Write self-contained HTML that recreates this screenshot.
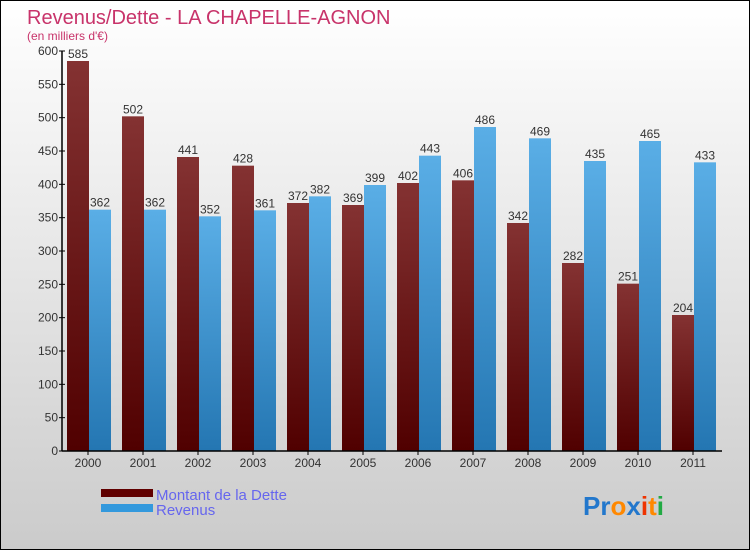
<!DOCTYPE html>
<html><head><meta charset="utf-8"><style>
body{margin:0}
#wrap{width:748px;height:548px;border:1px solid #000;background:linear-gradient(#fff,#cbcbcb);position:relative;font-family:"Liberation Sans",sans-serif}
</style></head><body>
<div id="wrap">
<svg id="svg" width="748" height="548" style="position:absolute;left:0;top:0">
<defs>
<linearGradient id="gr" x1="0" y1="0" x2="0" y2="1"><stop offset="0" stop-color="#843232"/><stop offset="1" stop-color="#500000"/></linearGradient>
<linearGradient id="gb" x1="0" y1="0" x2="0" y2="1"><stop offset="0" stop-color="#5aaee6"/><stop offset="1" stop-color="#2476b2"/></linearGradient>
</defs>
<text x="26" y="23" font-size="20" fill="#c8336a">Revenus/Dette - LA CHAPELLE-AGNON</text>
<text x="26" y="39" font-size="12" fill="#c8336a">(en milliers d'€)</text>
<g id="g"></g>
<rect x="100" y="488" width="52" height="8" fill="#600000"/>
<rect x="100" y="503" width="52" height="8" fill="#3399dd"/>
<text x="155" y="499" font-size="15" fill="#6666ee">Montant de la Dette</text>
<text x="155" y="514" font-size="15" fill="#6666ee">Revenus</text>
<text x="582" y="514" font-size="26" font-weight="bold"><tspan fill="#2277cc">Pr</tspan><tspan fill="#ff8800">o</tspan><tspan fill="#2277cc">x</tspan><tspan fill="#ee3300">i</tspan><tspan fill="#ff8800">t</tspan><tspan fill="#22aa44">i</tspan></text>
</svg>
</div>
<script>
const years=["2000","2001","2002","2003","2004","2005","2006","2007","2008","2009","2010","2011"];
const dette=[585,502,441,428,372,369,402,406,342,282,251,204];
const revenus=[362,362,352,361,382,399,443,486,469,435,465,433];
const ticks=[0,50,100,150,200,250,300,350,400,450,500,550,600];
const NS="http://www.w3.org/2000/svg",g=document.getElementById('g');
const x0=61,band=55,yB=450,yT=50,vmax=600;
const y=v=>yB-(v/vmax)*(yB-yT);
function mk(t,a,txt){const e=document.createElementNS(NS,t);for(const k in a)e.setAttribute(k,a[k]);if(txt!=null)e.textContent=txt;g.appendChild(e);return e;}
years.forEach((yr,i)=>{
 const bx=x0+i*band+5;
 let r=mk('rect',{x:bx,y:y(dette[i]),width:22,height:yB-y(dette[i]),fill:'url(#gr)'});
 
 
 let b=mk('rect',{x:bx+22,y:y(revenus[i]),width:22,height:yB-y(revenus[i]),fill:'url(#gb)'});
 
 
 let t1=mk('text',{x:bx+11,y:y(dette[i])-3,'font-size':12,fill:'#333','text-anchor':'middle'},dette[i]);
 
 
 let t2=mk('text',{x:bx+33,y:y(revenus[i])-3,'font-size':12,fill:'#333','text-anchor':'middle'},revenus[i]);
 
 
 const cx=x0+i*band+26;
 mk('line',{x1:cx,y1:yB,x2:cx,y2:yB+4,stroke:'#000'});
 let xl=mk('text',{x:cx,y:yB+16,'font-size':12,fill:'#333','text-anchor':'middle'},yr);
 
 
});
ticks.forEach(v=>{
 mk('line',{x1:x0-3,y1:y(v),x2:x0+3,y2:y(v),stroke:'#000'});
 let t=mk('text',{x:x0-4,y:y(v)+4,'font-size':12,fill:'#333','text-anchor':'end'},v);
 
 
});
let ya=mk('line',{x1:x0,y1:yT,x2:x0,y2:yB,stroke:'#000','stroke-width':1.5});


let xa=mk('line',{x1:x0,y1:yB,x2:x0+12*band,y2:yB,stroke:'#000','stroke-width':1.5});


</script>
</body></html>
